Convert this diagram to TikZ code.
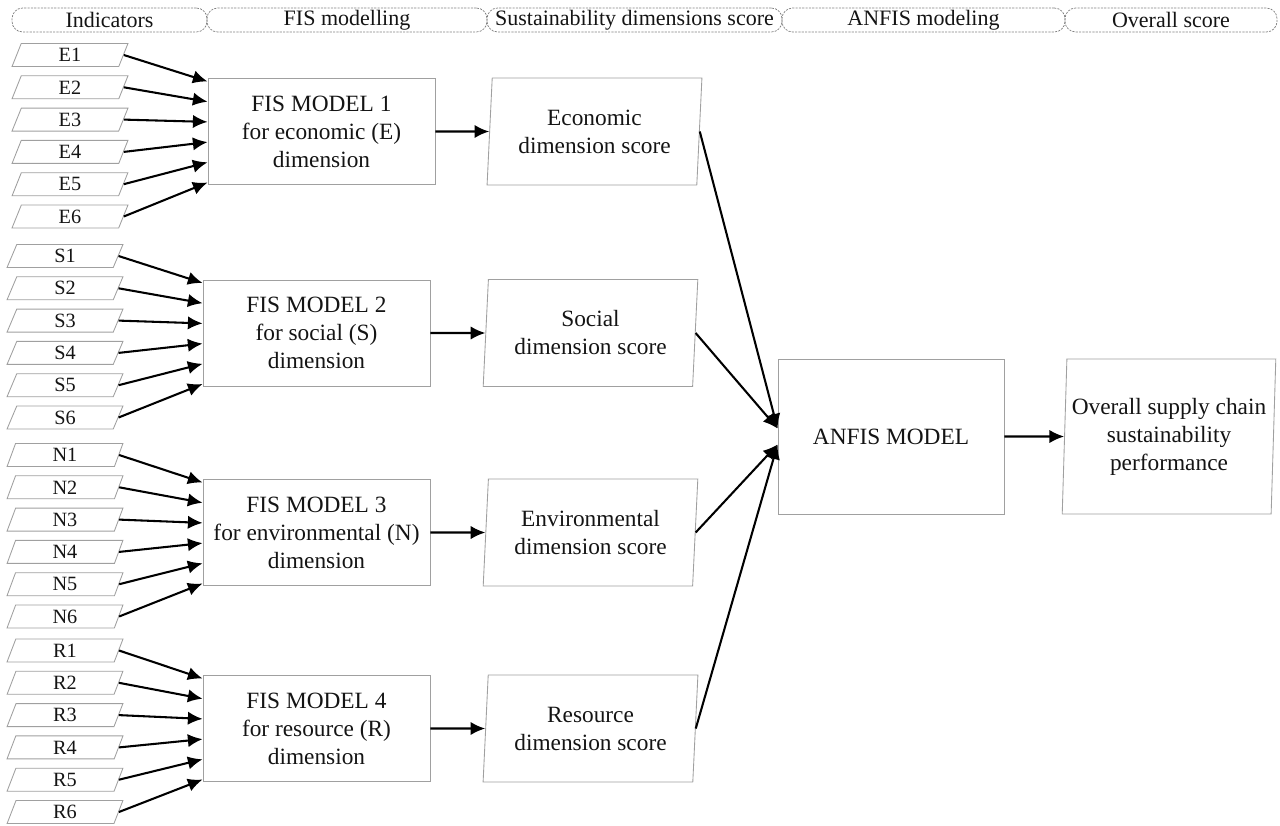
\documentclass[tikz,border=0pt]{standalone}
\usepackage{fontspec}
\setmainfont{Liberation Serif}
\usetikzlibrary{arrows.meta,shapes.geometric,calc}
\definecolor{boxgray}{RGB}{160,160,160}
\definecolor{hdrgray}{RGB}{130,130,130}
\definecolor{txt}{RGB}{20,20,20}
\begin{document}
\begin{tikzpicture}[x=0.75pt,y=-0.75pt,
  every node/.style={text=txt},
  hdr/.style={draw=hdrgray, dash pattern=on 1.6pt off 0.9pt, line width=0.55pt,
    rounded corners=8pt, minimum height=18pt, inner sep=0pt,
    font=\fontsize{16.5}{18}\selectfont},
  ind/.style={trapezium, trapezium left angle=81, trapezium right angle=99,
    trapezium stretches=true, draw=boxgray, line width=0.65pt,
    minimum width=87pt, minimum height=17.25pt, inner sep=0pt,
    font=\fontsize{15.2}{16}\selectfont},
  fis/.style={rectangle, draw=boxgray, line width=0.65pt, minimum width=170.25pt,
    minimum height=79.5pt, inner sep=0pt, align=center,
    font=\fontsize{17.5}{21}\selectfont},
  score/.style={trapezium, trapezium left angle=85, trapezium right angle=95,
    trapezium stretches=true, draw=boxgray, line width=0.65pt,
    minimum width=161.25pt, minimum height=80.25pt, inner sep=0pt, align=center,
    font=\fontsize{17.5}{21}\selectfont},
  arr/.style={line width=1.55pt, -{Latex[length=11pt,width=10pt]}}]
\useasboundingbox (0,0) rectangle (1280,825);
% header
\node[hdr, minimum width=146.25pt] (h1) at (109.5,20) {Indicators};
\node[hdr, minimum width=210pt] (h2) at (347,20) {FIS modelling};
\node[hdr, minimum width=221.25pt] (h3) at (634.5,20) {Sustainability dimensions score};
\node[hdr, minimum width=212.25pt] (h4) at (923.5,20) {ANFIS modeling};
\node[hdr, minimum width=159pt] (h5) at (1171,20) {Overall score};
% FIS models
\node[fis] (fis1) at (321.5,131.5) {FIS MODEL 1\\for economic (E)\\dimension};
\node[fis] (fis2) at (316.5,333) {FIS MODEL 2\\for social (S)\\dimension};
\node[fis] (fis3) at (316.5,532.5) {FIS MODEL 3\\for environmental (N)\\dimension};
\node[fis] (fis4) at (316.5,728.5) {FIS MODEL 4\\for resource (R)\\dimension};
% scores
\node[score] (sc1) at (594.5,131.5) {Economic\\dimension score};
\node[score] (sc2) at (590.5,333) {Social\\dimension score};
\node[score] (sc3) at (590.5,532.5) {Environmental\\dimension score};
\node[score] (sc4) at (590.5,728.5) {Resource\\dimension score};
% ANFIS and overall
\node[fis, minimum width=169.5pt, minimum height=116.25pt] (anfis) at (891,436.5) {ANFIS MODEL};
\node[score, trapezium left angle=86.7, trapezium right angle=93.3,
  minimum width=160.5pt, minimum height=116.25pt] (overall) at (1169,436.5)
  {Overall supply chain\\sustainability\\performance};
% indicators and their arrows
\foreach \g/\yy/\dx/\k in {E/55/5/1,S/256/0/2,N/455/0/3,R/650.5/0/4}{
  \foreach \i in {1,...,6}{
    \node[ind] (\g\i) at ({65+\dx},{\yy+32.3*(\i-1)}) {\g\i};
    \draw[arr] (\g\i.east) -- ($(fis\k.west)+(0,{-50+20.2*(\i-1)})$);
  }
}
% model to score
\foreach \k in {1,...,4}{
  \draw[arr] (fis\k.east) -- (sc\k.west);
}
% scores to ANFIS
\draw[arr] (sc1.east) -- ($(anfis.west)+(0,-8)$);
\draw[arr] (sc2.east) -- ($(anfis.west)+(0,-8)$);
\draw[arr] (sc3.east) -- ($(anfis.west)+(0,8)$);
\draw[arr] (sc4.east) -- ($(anfis.west)+(0,8)$);
\draw[arr] (anfis.east) -- (overall.west);
\end{tikzpicture}
\end{document}
